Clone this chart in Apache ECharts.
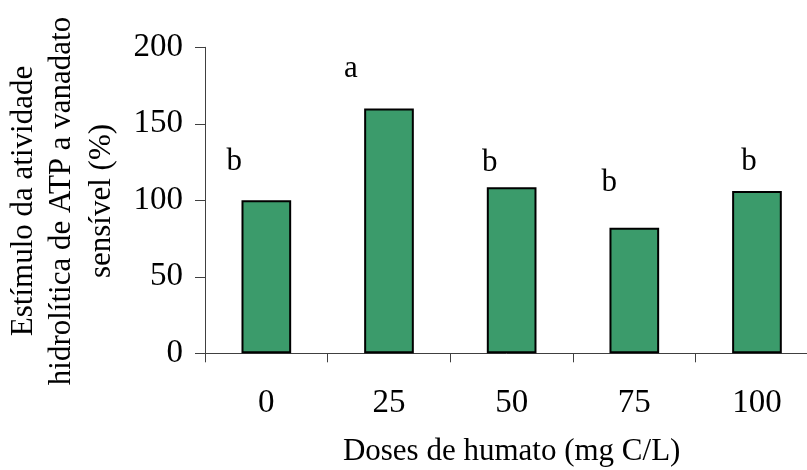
<!DOCTYPE html>
<html>
<head>
<meta charset="utf-8">
<script src="https://cdn.jsdelivr.net/npm/echarts@6/dist/echarts.min.js"></script>
<style>html,body{margin:0;padding:0;background:#fff;}#c{width:807px;height:470px;}</style>
</head>
<body>
<div id="c"></div>
<script>
const categories = ['0', '25', '50', '75', '100'];
const values = [100, 160, 108.5, 82, 106];
const letters = ['b', 'a', 'b', 'b', 'b'];
const yTicks = [0, 50, 100, 150, 200];
const xTitle = 'Doses de humato (mg C/L)';
const yTitleLines = ['Estímulo da atividade', 'hidrolítica de ATP a vanadato', 'sensível (%)'];

// layout only: per-letter offsets in pixels
const letterOffsets = [[-32, -23], [-38, -24], [-22, -9], [-25, -29], [-8, -14]];

const FONT = '"Liberation Serif", "Times New Roman", serif';
const FS = 31;
const TFS = 33;
const chart = echarts.init(document.getElementById('c'), null, {renderer: 'canvas'});
chart.setOption({
  animation: false,
  backgroundColor: '#ffffff',
  grid: {left: 205, top: 47.3, bottom: 116.7, right: -11.3, containLabel: false, outerBoundsMode: 'none'},
  xAxis: {
    type: 'category',
    data: categories,
    name: xTitle,
    nameLocation: 'middle',
    nameGap: 83,
    nameMoveOverlap: false,
    nameTextStyle: {fontFamily: FONT, fontSize: FS, color: '#000'},
    axisLine: {lineStyle: {color: '#404040', width: 1}},
    axisTick: {show: true, length: 9, inside: false, lineStyle: {color: '#404040'}},
    axisLabel: {fontFamily: FONT, fontSize: TFS, color: '#000', margin: 34},
    splitLine: {show: false}
  },
  yAxis: {
    type: 'value',
    min: yTicks[0],
    max: yTicks[yTicks.length - 1],
    interval: yTicks[1] - yTicks[0],
    axisLine: {show: true, lineStyle: {color: '#404040', width: 1}},
    axisTick: {show: true, length: 10, lineStyle: {color: '#404040'}},
    axisLabel: {fontFamily: FONT, fontSize: TFS, color: '#000', margin: 22},
    splitLine: {show: false}
  },
  series: [{
    type: 'bar',
    barWidth: '40.5%',
    data: values.map((v, i) => ({
      value: v,
      label: {
        show: true,
        position: 'top',
        distance: 0,
        offset: letterOffsets[i],
        formatter: letters[i],
        fontFamily: FONT,
        fontSize: FS,
        color: '#000'
      }
    })),
    itemStyle: {color: '#3b9b6b', borderColor: '#000', borderWidth: 2}
  }],
  graphic: yTitleLines.map((t, i) => ({
    type: 'text',
    x: [23.5, 61.5, 101.5][i],
    y: 201,
    rotation: Math.PI / 2,
    style: {
      text: t,
      font: FS + 'px ' + FONT,
      fill: '#000',
      align: 'center',
      verticalAlign: 'middle'
    }
  }))
});
</script>
</body>
</html>
